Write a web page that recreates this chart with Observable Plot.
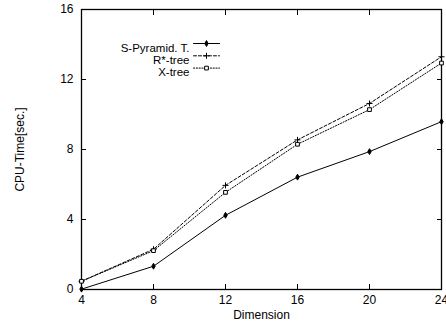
<!DOCTYPE html>
<html>
<head>
<meta charset="utf-8">
<script src="https://cdn.jsdelivr.net/npm/d3@7"></script>
<script src="https://cdn.jsdelivr.net/npm/@observablehq/plot@0.6"></script>
<style>
  html, body { margin: 0; padding: 0; background: #fff; }
  #chart svg { display: block; }
</style>
</head>
<body>
<div id="chart"></div>
<script>
// CPU time by dimension for three index structures
const dimensions = [4, 8, 12, 16, 20, 24];
const sPyramid = [0.02, 1.33, 4.24, 6.42, 7.88, 9.59];
const rStarTree = [0.47, 2.3, 5.95, 8.55, 10.63, 13.3];
const xTree = [0.47, 2.22, 5.55, 8.3, 10.28, 12.94];
const seriesNames = ["S-Pyramid. T.", "R*-tree", "X-tree"];
const xTicks = [4, 8, 12, 16, 20, 24];
const yTicks = [0, 4, 8, 12, 16];

const seriesValues = [sPyramid, rStarTree, xTree];
const styles = [
  {dash: null, symbol: "diamond", fill: "black", r: 1.8},
  {dash: "3,2", symbol: "plus", fill: "none", r: 2.1},
  {dash: "1.2,1.6", symbol: "square", fill: "white", r: 2.1}
];

const rows = seriesNames.flatMap((name, i) =>
  dimensions.map((d, j) => ({series: name, dim: d, time: seriesValues[i][j]}))
);

const font = "Liberation Sans, Arial, Helvetica, sans-serif";
const tickLine = {draw(ctx, l) { ctx.moveTo(0, 0); ctx.lineTo(0, -l); }};

const marks = [
  Plot.frame({stroke: "black", strokeWidth: 1.3}),
  // tick labels and axis titles
  Plot.axisX(xTicks, {anchor: "bottom", tickSize: 0, tickPadding: 6, fontSize: 12,
    label: "Dimension", labelAnchor: "center", labelArrow: "none", labelOffset: 29}),
  Plot.axisY(yTicks, {anchor: "left", tickSize: 0, tickPadding: 8, fontSize: 12,
    label: "CPU-Time[sec.]", labelAnchor: "center", labelArrow: "none", labelOffset: 66}),
  // inward tick marks on all four sides
  Plot.axisX(xTicks, {anchor: "bottom", tickSize: -5, fill: "none", label: null}),
  Plot.axisX(xTicks, {anchor: "top", tickSize: -5, fill: "none", label: null}),
  Plot.axisY(yTicks, {anchor: "left", tickSize: -5, fill: "none", label: null}),
  Plot.axisY(yTicks, {anchor: "right", tickSize: -5, fill: "none", label: null})
];

seriesNames.forEach((name, i) => {
  const s = styles[i];
  const data = rows.filter(d => d.series === name);
  marks.push(
    Plot.line(data, {x: "dim", y: "time", stroke: "black", strokeWidth: 1, strokeDasharray: s.dash}),
    Plot.dot(data, {x: "dim", y: "time", symbol: s.symbol, r: s.r, stroke: "black", strokeWidth: 1, fill: s.fill})
  );
  // legend entry
  const dy = 34 + i * 12.3;
  marks.push(
    Plot.text([name], {text: d => d, frameAnchor: "top-left", dx: 108, dy, textAnchor: "end", fontSize: 11.5, fill: "black"}),
    Plot.vector([name], {frameAnchor: "top-left", dx: 112, dy, length: 26, rotate: 90, anchor: "start",
      shape: tickLine, stroke: "black", strokeWidth: 1, strokeDasharray: s.dash}),
    Plot.dot([name], {frameAnchor: "top-left", dx: 125, dy, symbol: s.symbol, r: s.r, stroke: "black", strokeWidth: 1, fill: s.fill})
  );
});

const chart = Plot.plot({
  width: 446,
  height: 326,
  marginLeft: 81,
  marginRight: 5,
  marginTop: 9,
  marginBottom: 37,
  style: {fontFamily: font, fontSize: "12px", color: "black", background: "white"},
  x: {domain: [4, 24], ticks: xTicks},
  y: {domain: [0, 16], ticks: yTicks},
  marks
});

document.getElementById("chart").append(chart);
</script>
</body>
</html>
